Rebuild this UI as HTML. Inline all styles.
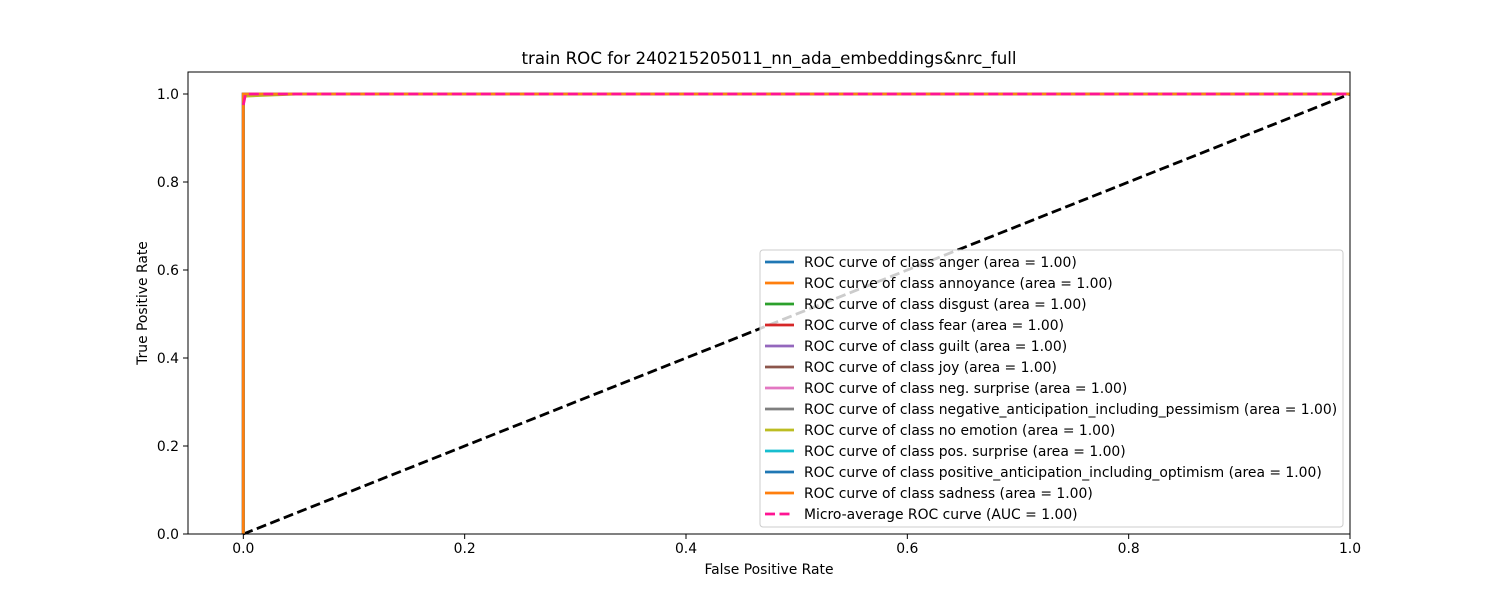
<!DOCTYPE html>
<html><head><meta charset="utf-8"><style>
body{margin:0;background:#fff}
svg text{font-family:"DejaVu Sans","Liberation Sans",sans-serif;fill:#000}
</style></head><body>
<svg id="chart" width="1500" height="600" xmlns="http://www.w3.org/2000/svg">
<rect width="1500" height="600" fill="#fff"/>
<g id="plot"></g>
</svg>
<script>
const classNames=["anger","annoyance","disgust","fear","guilt","joy","neg. surprise","negative_anticipation_including_pessimism","no emotion","pos. surprise","positive_anticipation_including_optimism","sadness"];
const classColors=["#1f77b4","#ff7f0e","#2ca02c","#d62728","#9467bd","#8c564b","#e377c2","#7f7f7f","#bcbd22","#17becf","#1f77b4","#ff7f0e"];
const classAuc=[1.00,1.00,1.00,1.00,1.00,1.00,1.00,1.00,1.00,1.00,1.00,1.00];
const classFpr=[[0,0,1],[0,0,1],[0,0,1],[0,0,1],[0,0,1],[0,0,1],[0,0,1],[0,0,1],[0,0,0.05,1],[0,0,1],[0,0,1],[0,0,1]];
const classTpr=[[0,1,1],[0,1,1],[0,1,1],[0,1,1],[0,1,1],[0,1,1],[0,1,1],[0,1,1],[0,0.995,1,1],[0,1,1],[0,1,1],[0,1,1]];
const microFpr=[0,0.002,1];
const microTpr=[0.975,1,1];
const microAuc=1.00;
const xTicks=[0,0.2,0.4,0.6,0.8,1.0];
const yTicks=[0,0.2,0.4,0.6,0.8,1.0];
const L=188,R=1350,T=72,B=534;
const sx=v=>L+(v+0.05)/1.05*(R-L);
const sy=v=>B-v/1.05*(B-T);
const g=document.getElementById('plot');
const NS="http://www.w3.org/2000/svg";
function mk(t,a,p){const e=document.createElementNS(NS,t);for(const k in a)e.setAttribute(k,a[k]);(p||g).appendChild(e);return e;}
function pts(xs,ys){return xs.map((x,i)=>sx(x)+","+sy(ys[i])).join(" ");}
let d=mk('line',{x1:sx(0),y1:sy(0),x2:sx(1),y2:sy(1),stroke:"#000","stroke-width":2.8,"stroke-dasharray":"10,4.5"});


classNames.forEach((n,i)=>{
 const l=mk('polyline',{points:pts(classFpr[i],classTpr[i]),fill:"none",stroke:classColors[i],"stroke-width":2.8});
 
 
});
const m=mk('polyline',{points:pts(microFpr,microTpr),fill:"none",stroke:"deeppink","stroke-width":2.8,"stroke-dasharray":"10,4.5"});


const fr=mk('rect',{x:L,y:T,width:R-L,height:B-T,fill:"none",stroke:"#000","stroke-width":1});


xTicks.forEach(v=>{
 mk('line',{x1:sx(v),x2:sx(v),y1:B,y2:B+5,stroke:"#000"});
 const t=mk('text',{x:sx(v),y:B+19,"text-anchor":"middle","font-size":13.9});t.textContent=v.toFixed(1);
 
 
});
yTicks.forEach(v=>{
 mk('line',{x1:L-5,x2:L,y1:sy(v),y2:sy(v),stroke:"#000"});
 const t=mk('text',{x:L-9,y:sy(v)+5,"text-anchor":"end","font-size":13.9});t.textContent=v.toFixed(1);
 
 
});
let t=mk('text',{x:769,y:574,"text-anchor":"middle","font-size":13.9});t.textContent="False Positive Rate";


t=mk('text',{x:147,y:303,"text-anchor":"middle","font-size":13.9,transform:"rotate(-90 147 303)"});t.textContent="True Positive Rate";


t=mk('text',{x:769,y:64,"text-anchor":"middle","font-size":16.7});t.textContent="train ROC for 240215205011_nn_ada_embeddings&nrc_full";


const lg=mk('g',{});


mk('rect',{x:760,y:250,width:583,height:277,rx:3,fill:"#fff","fill-opacity":0.8,stroke:"#ccc"},lg);
const labels=classNames.map((n,i)=>"ROC curve of class "+n+" (area = "+classAuc[i].toFixed(2)+")").concat(["Micro-average ROC curve (AUC = "+microAuc.toFixed(2)+")"]);
const cols=classColors.concat(["deeppink"]);
labels.forEach((s,i)=>{
 const y=262+i*21;
 const ln=mk('line',{x1:765,x2:794,y1:y,y2:y,stroke:cols[i],"stroke-width":2.8},lg);
 if(i===labels.length-1)ln.setAttribute('stroke-dasharray','10,4.5');
 const tx=mk('text',{x:804,y:y+5,"font-size":13.9},lg);tx.textContent=s;
 
 
});
</script>
</body></html>
